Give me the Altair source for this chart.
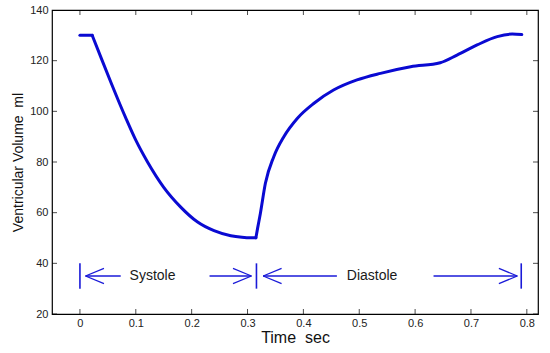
import altair as alt
import pandas as pd

# ---- data ----
time_s = [0.000, 0.022,
          0.022, 0.039, 0.057, 0.082, 0.100, 0.121, 0.150, 0.180, 0.210,
          0.240, 0.270, 0.290, 0.305, 0.315,
          0.315, 0.318, 0.323, 0.332, 0.347, 0.365,
          0.389, 0.419, 0.454, 0.496, 0.538, 0.592, 0.645, 0.675, 0.711, 0.747,
          0.774, 0.791]
volume_ml = [130.0, 130.0,
             130.0, 120.5, 110.6, 97.4, 88.6, 80.0, 70.0, 62.3, 56.4,
             52.9, 50.9, 50.3, 50.1, 50.1,
             50.1, 53.8, 59.7, 71.6, 82.1, 90.0,
             97.2, 103.2, 108.4, 112.4, 115.0, 117.6, 119.2, 122.2, 126.2, 129.5,
             130.5, 130.3]
phase_segment = ["plateau"] * 2 + ["ejection"] * 14 + ["filling"] * 18

x_ticks = [0, 0.1, 0.2, 0.3, 0.4, 0.5, 0.6, 0.7, 0.8]
y_ticks = [20, 40, 60, 80, 100, 120, 140]
x_domain = [-0.05, 0.82]
y_domain = [20, 140]

phase_bar_t = [0.0, 0.316, 0.790]
bar_lo = [30, 30, 30]
bar_hi = [40, 40, 40]
arrow_level = 35
shaft_start = [0.010, 0.232, 0.328, 0.633]
shaft_end = [0.073, 0.307, 0.460, 0.783]
tip_t = [0.010, 0.307, 0.328, 0.783]
tip_dir = [1, -1, 1, -1]
head_dt = 0.033
head_dv = 3.0
phase_names = ["Systole", "Diastole"]
phase_label_t = [0.130, 0.523]

# ---- tables ----
curve = pd.DataFrame({"t": time_s, "v": volume_ml, "seg": phase_segment})
bars = pd.DataFrame({"t": phase_bar_t, "v": bar_lo, "v2": bar_hi})
shafts = pd.DataFrame({"t": shaft_start, "t2": shaft_end,
                       "v": [arrow_level] * len(shaft_start)})
arm_rows = []
for t0, d in zip(tip_t, tip_dir):
    for s in (1, -1):
        arm_rows.append({"t": t0, "t2": t0 + d * head_dt,
                         "v": arrow_level, "v2": arrow_level + s * head_dv})
arms = pd.DataFrame(arm_rows)
labels = pd.DataFrame({"t": phase_label_t, "v": [arrow_level] * 2, "name": phase_names})
xt = pd.DataFrame({"t": x_ticks})
yt = pd.DataFrame({"v": y_ticks})

xs = alt.Scale(domain=x_domain, nice=False, zero=False)
ys = alt.Scale(domain=y_domain, nice=False, zero=False)
xaxis = alt.Axis(values=x_ticks, format=".1~f", title="Time\u00a0\u00a0sec",
                 grid=False, ticks=False, domain=False, labelPadding=3,
                 titleFontSize=16, titlePadding=1)
yaxis = alt.Axis(values=y_ticks, format="d", title="Ventricular Volume\u00a0\u00a0ml",
                 grid=False, ticks=False, domain=False, labelPadding=4,
                 titleFontSize=14, titlePadding=4)

X = lambda f="t": alt.X(f"{f}:Q", scale=xs, axis=xaxis)
Y = lambda f="v": alt.Y(f"{f}:Q", scale=ys, axis=yaxis)

blue_line = "#0a0ad2"
blue_ann = "#1a1ad8"

line = alt.Chart(curve).mark_line(color=blue_line, strokeWidth=3,
                                  interpolate="monotone", strokeCap="round",
                                  strokeJoin="round").encode(
    x=X(), y=Y(), detail="seg:N", order="t:Q")

bar_layer = alt.Chart(bars).mark_rule(color=blue_ann, strokeWidth=1.6).encode(
    x=X(), y=Y(), y2="v2:Q")
shaft_layer = alt.Chart(shafts).mark_rule(color=blue_ann, strokeWidth=1.3).encode(
    x=X(), x2="t2:Q", y=Y())
arm_layer = alt.Chart(arms).mark_rule(color=blue_ann, strokeWidth=1.3).encode(
    x=X(), x2="t2:Q", y=Y(), y2="v2:Q")
text_layer = alt.Chart(labels).mark_text(font="Liberation Sans", fontSize=14,
                                         color="#1a1a1a").encode(
    x=X(), y=Y(), text="name:N")

tick_kw = dict(color="black", size=10, thickness=1, clip=True)
xb = alt.Chart(xt).mark_tick(orient="vertical", **tick_kw).encode(
    x=X(), y=alt.datum(y_domain[0]))
xtop = alt.Chart(xt).mark_tick(orient="vertical", **tick_kw).encode(
    x=X(), y=alt.datum(y_domain[1]))
yl = alt.Chart(yt).mark_tick(orient="horizontal", **tick_kw).encode(
    y=Y(), x=alt.datum(x_domain[0]))
yr = alt.Chart(yt).mark_tick(orient="horizontal", **tick_kw).encode(
    y=Y(), x=alt.datum(x_domain[1]))

chart = alt.layer(line, bar_layer, shaft_layer, arm_layer, text_layer,
                  xb, xtop, yl, yr).properties(
    width=486, height=304,
    autosize=alt.AutoSizeParams(type="none"),
    padding={"left": 52, "top": 10, "right": 12, "bottom": 39},
    background="white",
).configure_view(stroke="black", strokeWidth=1.2).configure_axis(
    labelFont="Liberation Sans", labelFontSize=11, labelColor="#222222",
    titleFont="Liberation Sans", titleFontWeight="normal", titleColor="#111111",
)

chart.save("out.html", embed_options={"renderer": "svg", "actions": False})
